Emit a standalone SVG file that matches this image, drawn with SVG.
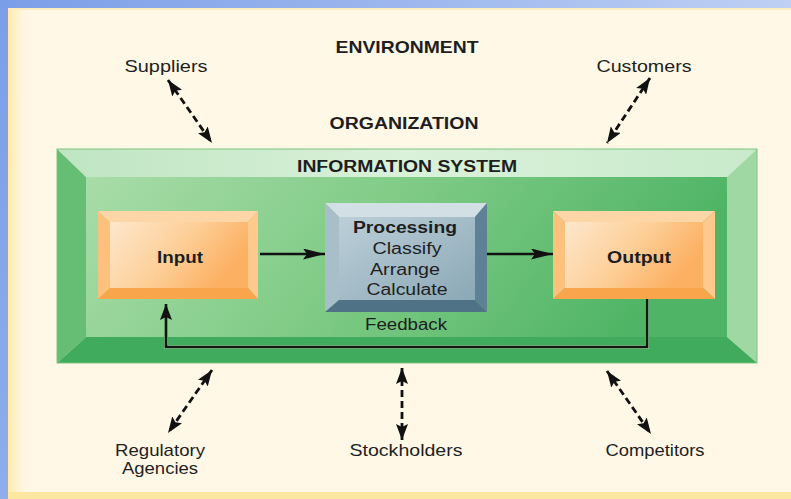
<svg xmlns="http://www.w3.org/2000/svg" width="791" height="499" viewBox="0 0 791 499">
<style>
text{font-family:"Liberation Sans",Arial,sans-serif;fill:#1e1e1e}
.b{font-weight:bold}
.lbl{font-size:17px}
.dash{fill:none;stroke:#111;stroke-width:2.8;stroke-dasharray:7 4}
.solid{fill:none;stroke:#111;stroke-width:2.4}
</style>
<defs>
<linearGradient id="bg" x1="0" y1="0" x2="1" y2="0.3">
<stop offset="0" stop-color="#7b9ee8"/><stop offset="1" stop-color="#c4d4f4"/>
</linearGradient>
<linearGradient id="panelL" x1="0" y1="0" x2="1" y2="0">
<stop offset="0" stop-color="#fde9a6"/><stop offset="1" stop-color="#fff8e8" stop-opacity="0"/>
</linearGradient>
<linearGradient id="gFace" x1="0" y1="0" x2="1" y2="0.2">
<stop offset="0" stop-color="#a9dca8"/><stop offset="0.5" stop-color="#7fcb86"/><stop offset="1" stop-color="#4fb465"/>
</linearGradient>
<linearGradient id="gTop" x1="0" y1="0" x2="1" y2="0">
<stop offset="0" stop-color="#bfe5c2"/><stop offset="0.5" stop-color="#daf1da"/><stop offset="1" stop-color="#c8eacb"/>
</linearGradient>
<linearGradient id="oFace" x1="0" y1="0" x2="1" y2="0.4">
<stop offset="0" stop-color="#fde7cc"/><stop offset="0.55" stop-color="#fdcf98"/><stop offset="1" stop-color="#fcb062"/>
</linearGradient>
<linearGradient id="pFace" x1="0" y1="0" x2="1" y2="1">
<stop offset="0" stop-color="#bccfd8"/><stop offset="1" stop-color="#8ba8b6"/>
</linearGradient>
<marker id="ah" viewBox="0 0 16 12" refX="16" refY="6" markerWidth="16" markerHeight="12" markerUnits="userSpaceOnUse" orient="auto-start-reverse">
<path d="M0,0 L16,6 L0,12 L3,6 z" fill="#111"/>
</marker>
<marker id="sh" viewBox="0 0 22 11" refX="22" refY="5.5" markerWidth="22" markerHeight="11" markerUnits="userSpaceOnUse" orient="auto">
<path d="M0,0 L22,5.5 L0,11 L4,5.5 z" fill="#111"/>
</marker>
<marker id="fh" viewBox="0 0 16 12" refX="16" refY="6" markerWidth="16" markerHeight="12" markerUnits="userSpaceOnUse" orient="auto">
<path d="M0,0 L16,6 L0,12 L3,6 z" fill="#111"/>
</marker>
</defs>

<g id="background">
<rect x="0" y="0" width="791" height="499" fill="url(#bg)"/>
<rect x="8" y="8" width="783" height="491" fill="#fff8e6"/>
<rect x="8" y="8" width="24" height="491" fill="url(#panelL)"/>
<rect x="8" y="8" width="783" height="2" fill="#fdeec0"/>
<rect x="8" y="492" width="783" height="7" fill="#fce7a0"/>
</g>

<g id="labels-top">
<text class="b" x="407" y="53" font-size="17" text-anchor="middle" textLength="143" lengthAdjust="spacingAndGlyphs">ENVIRONMENT</text>
<text class="b" x="404" y="129" font-size="16" text-anchor="middle" textLength="149" lengthAdjust="spacingAndGlyphs">ORGANIZATION</text>
</g>

<g id="information-system">
<polygon points="57,149 757,149 727,177 86,177" fill="url(#gTop)"/>
<polygon points="57,149 86,177 86,337 57,363" fill="#66bd74"/>
<polygon points="757,149 757,363 727,337 727,177" fill="#9fd8a2"/>
<polygon points="57,363 86,337 727,337 757,363" fill="#40aa5d"/>
<rect x="86" y="177" width="641" height="160" fill="url(#gFace)"/>
<rect x="57" y="149" width="700" height="214" fill="none" stroke="#7cc47e" stroke-width="1"/>
<text class="b" x="407" y="172" font-size="16" text-anchor="middle" textLength="220" lengthAdjust="spacingAndGlyphs">INFORMATION SYSTEM</text>
</g>

<g id="input">
<polygon points="98,211 258,211 248,222 110,222" fill="#fdd6a8"/>
<polygon points="98,211 110,222 110,288 98,299" fill="#fdc17e"/>
<polygon points="258,211 258,299 248,288 248,222" fill="#fdc98c"/>
<polygon points="98,299 110,288 248,288 258,299" fill="#f9a54c"/>
<rect x="110" y="222" width="138" height="66" fill="url(#oFace)"/>
<text class="b" x="180" y="263" font-size="16" text-anchor="middle" textLength="46" lengthAdjust="spacingAndGlyphs">Input</text>
</g>

<g id="processing">
<polygon points="325,203 487,203 475,217 339,217" fill="#d2e0e6"/>
<polygon points="325,203 339,217 339,300 325,312" fill="#a8bfca"/>
<polygon points="487,203 487,312 475,300 475,217" fill="#5f8195"/>
<polygon points="325,312 339,300 475,300 487,312" fill="#4f7287"/>
<rect x="339" y="217" width="136" height="83" fill="url(#pFace)"/>
<text class="b" x="405" y="233" font-size="16" text-anchor="middle" textLength="104" lengthAdjust="spacingAndGlyphs">Processing</text>
<text x="407" y="254" font-size="16" text-anchor="middle" textLength="69" lengthAdjust="spacingAndGlyphs">Classify</text>
<text x="405" y="275" font-size="16" text-anchor="middle" textLength="70" lengthAdjust="spacingAndGlyphs">Arrange</text>
<text x="407" y="295" font-size="16" text-anchor="middle" textLength="81" lengthAdjust="spacingAndGlyphs">Calculate</text>
</g>

<g id="output">
<polygon points="553,211 715,211 703,222 565,222" fill="#fdd6a8"/>
<polygon points="553,211 565,222 565,288 553,299" fill="#fdc17e"/>
<polygon points="715,211 715,299 703,288 703,222" fill="#fdc98c"/>
<polygon points="553,299 565,288 703,288 715,299" fill="#f9a54c"/>
<rect x="565" y="222" width="138" height="66" fill="url(#oFace)"/>
<text class="b" x="639" y="263" font-size="16" text-anchor="middle" textLength="64" lengthAdjust="spacingAndGlyphs">Output</text>
</g>

<g id="feedback-label">
<text x="406" y="330" font-size="16" text-anchor="middle" textLength="82" lengthAdjust="spacingAndGlyphs">Feedback</text>
</g>

<g id="environment-labels">
<text class="lbl" x="166" y="72" text-anchor="middle" textLength="83" lengthAdjust="spacingAndGlyphs">Suppliers</text>
<text class="lbl" x="644" y="72" text-anchor="middle" textLength="95" lengthAdjust="spacingAndGlyphs">Customers</text>
<text class="lbl" x="160" y="456" text-anchor="middle" textLength="90" lengthAdjust="spacingAndGlyphs">Regulatory</text>
<text class="lbl" x="160" y="474" text-anchor="middle" textLength="76" lengthAdjust="spacingAndGlyphs">Agencies</text>
<text class="lbl" x="406" y="456" text-anchor="middle" textLength="113" lengthAdjust="spacingAndGlyphs">Stockholders</text>
<text class="lbl" x="655" y="456" text-anchor="middle" textLength="99" lengthAdjust="spacingAndGlyphs">Competitors</text>
</g>

<g id="connectors">
<line class="dash" x1="168" y1="80" x2="212" y2="143" marker-start="url(#ah)" marker-end="url(#ah)"/>
<line class="dash" x1="650" y1="78" x2="607" y2="143" marker-start="url(#ah)" marker-end="url(#ah)"/>
<line class="dash" x1="212" y1="370" x2="168" y2="433" marker-start="url(#ah)" marker-end="url(#ah)"/>
<line class="dash" x1="402" y1="368" x2="402" y2="440" marker-start="url(#ah)" marker-end="url(#ah)"/>
<line class="dash" x1="607" y1="371" x2="651" y2="434" marker-start="url(#ah)" marker-end="url(#ah)"/>
<line class="solid" x1="260" y1="254" x2="325" y2="254" marker-end="url(#sh)"/>
<line class="solid" x1="487" y1="254" x2="553" y2="254" marker-end="url(#sh)"/>
<path d="M647,299 V347 H166 V304" fill="none" stroke="#8fd196" stroke-width="4"/>
<path d="M647,299 V347 H166 V304" fill="none" stroke="#101810" stroke-width="2.6" marker-end="url(#fh)"/>
</g>
</svg>
